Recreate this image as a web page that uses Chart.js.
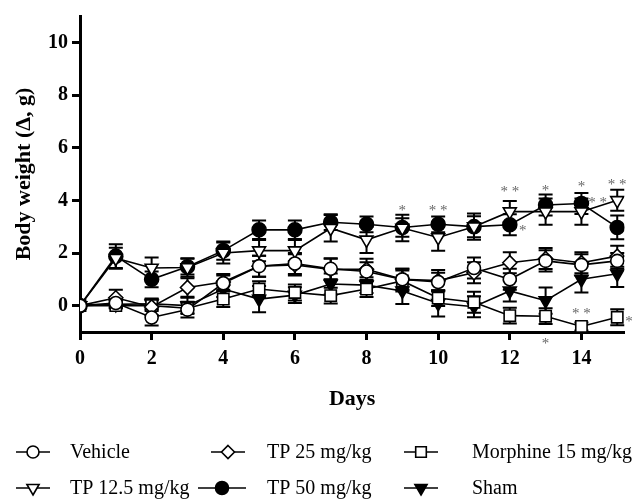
<!DOCTYPE html>
<html>
<head>
<meta charset="utf-8">
<script src="https://cdn.jsdelivr.net/npm/chart.js@4/dist/chart.umd.min.js"></script>
<style>
    html, body { margin: 0; padding: 0; background: #fff; }
    #wrap { width: 634px; height: 499px; }
</style>
</head>
<body>
<div id="wrap"><canvas id="bwChart" width="634" height="499"></canvas></div>
<script>
// Body weight change (Δ, g) per day, mean ± SEM
const days = [0, 1, 2, 3, 4, 5, 6, 7, 8, 9, 10, 11, 12, 13, 14, 15];
const xTicks = [0, 2, 4, 6, 8, 10, 12, 14];
const yTicks = [0, 2, 4, 6, 8, 10];

const vehicle   = [0, 0.1, -0.45, -0.15, 0.85, 1.5, 1.6, 1.4, 1.3, 1.0, 0.9, 1.43, 1.0, 1.7, 1.55, 1.7];
const vehicleErr = [0, 0.2, 0.3, 0.3, 0.3, 0.4, 0.4, 0.4, 0.35, 0.4, 0.35, 0.4, 0.4, 0.4, 0.4, 0.3];

const tp125    = [0, 1.8, 1.43, 1.45, 2.0, 2.09, 2.09, 2.94, 2.5, 2.95, 2.59, 3.0, 3.57, 3.57, 3.57, 4.0];
const tp125Err = [0, 0.4, 0.4, 0.35, 0.4, 0.4, 0.4, 0.5, 0.5, 0.5, 0.5, 0.5, 0.4, 0.5, 0.5, 0.4];

const tp25     = [0, 0.3, -0.05, 0.69, 0.9, 1.5, 1.55, 1.38, 1.38, 1.0, 0.95, 1.25, 1.63, 1.79, 1.63, 1.88];
const tp25Err  = [0, 0.3, 0.3, 0.35, 0.3, 0.4, 0.4, 0.4, 0.4, 0.4, 0.4, 0.4, 0.4, 0.4, 0.4, 0.4];

const morphine    = [0, 0, 0, -0.1, 0.25, 0.63, 0.5, 0.38, 0.63, 0.94, 0.29, 0.13, -0.38, -0.4, -0.79, -0.44];
const morphineErr = [0, 0.1, 0.2, 0.2, 0.3, 0.3, 0.3, 0.3, 0.3, 0.4, 0.3, 0.4, 0.3, 0.3, 0.15, 0.3];

const tp50     = [0, 1.88, 1.0, 1.48, 2.09, 2.88, 2.88, 3.17, 3.09, 2.97, 3.09, 3.0, 3.07, 3.82, 3.88, 2.97];
const tp50Err  = [0, 0.45, 0.3, 0.3, 0.35, 0.35, 0.35, 0.3, 0.3, 0.35, 0.3, 0.4, 0.4, 0.4, 0.4, 0.45];

const sham     = [0, 0.05, 0.07, 0, 0.63, 0.25, 0.4, 0.82, 0.78, 0.56, 0.09, -0.04, 0.56, 0.19, 1.0, 1.21];
const shamErr  = [0, 0.1, 0.2, 0.3, 0.3, 0.5, 0.3, 0.4, 0.3, 0.5, 0.5, 0.4, 0.4, 0.5, 0.5, 0.5];

// significance marks: day position, value position, text
const sigDays = [9, 10, 12, 12.36, 13, 14, 14.45, 15, 13, 14, 15.33];
const sigVals = [3.72, 3.72, 4.44, 2.94, 4.47, 4.6, 4.0, 4.7, -1.35, -0.19, -0.5];
const sigText = ['*', '**', '**', '*', '*', '*', '**', '**', '*', '**', '*'];

const SERIF = '"Liberation Serif", "Times New Roman", serif';

function pts(values) {
    return days.map((d, i) => ({ x: d, y: values[i] }));
}

function series(label, values, errors, style, fill, radius, rotation) {
    return {
        label: label,
        data: pts(values),
        errors: errors,
        borderColor: '#000',
        borderWidth: 1.6,
        pointStyle: style,
        pointRadius: radius,
        pointRotation: rotation || 0,
        pointBackgroundColor: fill,
        pointBorderColor: '#000',
        pointBorderWidth: 1.6,
        tension: 0,
        fill: false
    };
}

// error bars go under the markers
const errorBars = {
    id: 'errorBars',
    beforeDatasetsDraw(chart) {
        const { ctx, scales: { y } } = chart;
        ctx.save();
        ctx.strokeStyle = '#000';
        ctx.lineWidth = 2;
        chart.data.datasets.forEach((ds, di) => {
            const meta = chart.getDatasetMeta(di);
            meta.data.forEach((p, i) => {
                const e = ds.errors[i];
                if (!e) return;
                const v = ds.data[i].y;
                const top = y.getPixelForValue(v + e);
                const bot = y.getPixelForValue(v - e);
                ctx.beginPath();
                ctx.moveTo(p.x, top); ctx.lineTo(p.x, bot);
                ctx.moveTo(p.x - 7, top); ctx.lineTo(p.x + 7, top);
                ctx.moveTo(p.x - 7, bot); ctx.lineTo(p.x + 7, bot);
                ctx.stroke();
            });
        });
        ctx.restore();
    }
};

const sigMarks = {
    id: 'sigMarks',
    afterDatasetsDraw(chart) {
        const { ctx, scales: { x, y } } = chart;
        ctx.save();
        ctx.fillStyle = '#666';
        ctx.font = '15px ' + SERIF;
        ctx.textAlign = 'center';
        ctx.textBaseline = 'middle';
        sigDays.forEach((d, i) => {
            const txt = sigText[i].split('').join(' ');
            ctx.fillText(txt, x.getPixelForValue(d), y.getPixelForValue(sigVals[i]) + 3);
        });
        ctx.restore();
    }
};

function drawMarker(ctx, style, cx, cy, fill, r, rot) {
    ctx.save();
    ctx.fillStyle = fill;
    ctx.strokeStyle = '#000';
    ctx.lineWidth = 1.6;
    ctx.beginPath();
    if (style === 'circle') {
        ctx.arc(cx, cy, r, 0, Math.PI * 2);
    } else if (style === 'rect') {
        const s = r * Math.SQRT1_2;
        ctx.rect(cx - s, cy - s, 2 * s, 2 * s);
    } else if (style === 'rectRot') {
        ctx.moveTo(cx, cy - r); ctx.lineTo(cx + r, cy);
        ctx.lineTo(cx, cy + r); ctx.lineTo(cx - r, cy);
        ctx.closePath();
    } else if (style === 'triangle') {
        const dir = rot ? 1 : -1;
        ctx.moveTo(cx, cy + dir * r);
        ctx.lineTo(cx + r * 0.866, cy - dir * r * 0.5);
        ctx.lineTo(cx - r * 0.866, cy - dir * r * 0.5);
        ctx.closePath();
    }
    ctx.fill();
    ctx.stroke();
    ctx.restore();
}

// legend: 2 rows x 3 columns under the axis
const legendCols = [
    { mark: 33, half: 17, text: 70 },
    { mark: 228, half: 17, text: 267 },
    { mark: 421, half: 17, text: 472 }
];
const legendRows = [452, 488];

const bottomLegend = {
    id: 'bottomLegend',
    afterDraw(chart) {
        const { ctx } = chart;
        ctx.save();
        chart.data.datasets.forEach((ds, i) => {
            const col = legendCols[i % 3];
            const row = legendRows[Math.floor(i / 3)];
            const half = i === 4 ? 24 : col.half;
            const cx = i === 4 ? 222 : col.mark;
            ctx.strokeStyle = '#000';
            ctx.lineWidth = 1.6;
            ctx.beginPath();
            ctx.moveTo(cx - half, row);
            ctx.lineTo(cx + half, row);
            ctx.stroke();
            drawMarker(ctx, ds.pointStyle, cx, row, ds.pointBackgroundColor, ds.pointRadius - 0.5, ds.pointRotation);
            ctx.fillStyle = '#000';
            ctx.font = '20px ' + SERIF;
            ctx.textAlign = 'left';
            ctx.textBaseline = 'middle';
            ctx.fillText(ds.label, col.text, row + 1);
        });
        ctx.restore();
    }
};

const ctx = document.getElementById('bwChart').getContext('2d');
new Chart(ctx, {
    type: 'line',
    data: {
        datasets: [
            series('Vehicle', vehicle, vehicleErr, 'circle', '#fff', 6.5),
            series('TP 25 mg/kg', tp25, tp25Err, 'rectRot', '#fff', 7),
            series('Morphine 15 mg/kg', morphine, morphineErr, 'rect', '#fff', 8),
            series('TP 12.5 mg/kg', tp125, tp125Err, 'triangle', '#fff', 7.5, 180),
            series('TP 50 mg/kg', tp50, tp50Err, 'circle', '#000', 7),
            series('Sham', sham, shamErr, 'triangle', '#000', 7.5, 180)
        ]
    },
    options: {
        responsive: false,
        animation: false,
        layout: { padding: { top: 12, right: 7, bottom: 84, left: 0 } },
        plugins: { legend: { display: false }, tooltip: { enabled: false } },
        scales: {
            x: {
                type: 'linear',
                min: 0,
                max: 15.2,
                afterFit: s => { s.height = 83; },
                afterBuildTicks: s => { s.ticks = xTicks.map(v => ({ value: v })); },
                grid: { drawOnChartArea: false, tickLength: 8, tickWidth: 3, tickColor: '#000' },
                border: { color: '#000', width: 3 },
                ticks: { color: '#000', padding: 7, font: { family: SERIF, size: 20, weight: 'bold' } },
                title: {
                    display: true,
                    text: 'Days',
                    color: '#000',
                    padding: { top: 0, bottom: 2 },
                    font: { family: SERIF, size: 22, weight: 'bold' }
                }
            },
            y: {
                min: -1,
                max: 11,
                afterFit: s => { s.width = 80; },
                afterBuildTicks: s => { s.ticks = yTicks.map(v => ({ value: v })); },
                grid: { drawOnChartArea: false, tickLength: 8, tickWidth: 3, tickColor: '#000' },
                border: { color: '#000', width: 3 },
                ticks: { color: '#000', padding: 4, font: { family: SERIF, size: 20, weight: 'bold' } },
                title: {
                    display: true,
                    text: 'Body weight (Δ, g)',
                    color: '#000',
                    padding: { top: 11, bottom: 0 },
                    font: { family: SERIF, size: 22, weight: 'bold' }
                }
            }
        }
    },
    plugins: [errorBars, sigMarks, bottomLegend]
});
</script>
</body>
</html>
